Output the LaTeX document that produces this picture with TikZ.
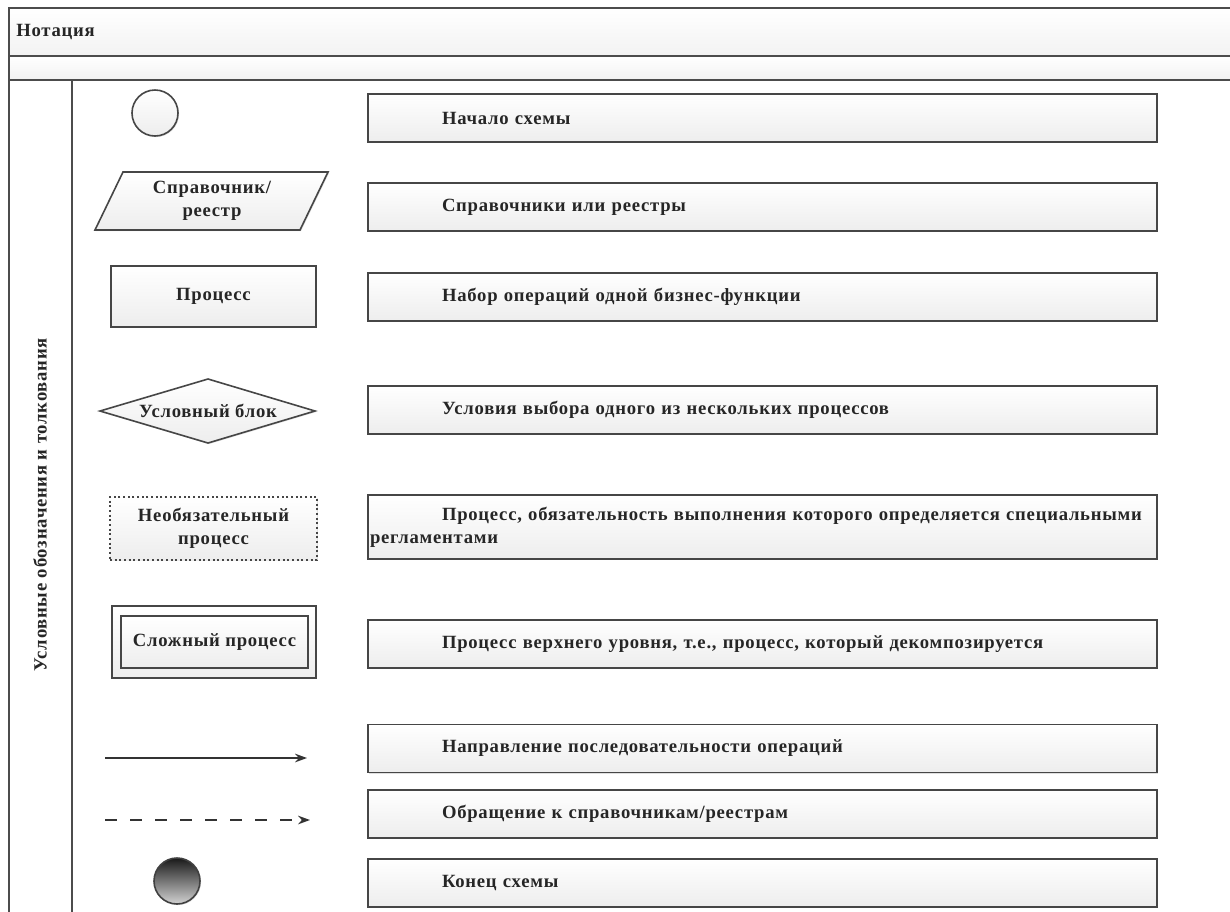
\documentclass[tikz,border=0pt]{standalone}
\usepackage{fontspec}
\setmainfont{Liberation Serif}
\newfontfamily\lsf[LetterSpace=4]{Liberation Serif}
\usetikzlibrary{arrows.meta,shadows}
\begin{document}
\begin{tikzpicture}[x=0.75pt,y=-0.75pt,
  frame/.style={draw=gray!60!black, line width=1.6pt},
  shp/.style={draw=gray!55!black, line width=1.2pt, top color=white, bottom color=gray!14,
    drop shadow={shadow xshift=0.8pt, shadow yshift=-0.8pt, opacity=0.25}},
  txt/.style={font=\lsf\bfseries\fontsize{14}{17}\selectfont, text=black!85},
  rbox/.style={shp, txt, rectangle, minimum width=591.75pt, minimum height=36pt, text width=588.75pt, inner xsep=1.5pt, align=left},
  lbl/.style={txt, align=center, inner sep=0pt},
  lshape/.style={shp, txt, rectangle, align=center, inner sep=0pt},
  arr/.style={draw=black!80, line width=1.1pt, -{Stealth[length=9pt,width=6.5pt]}},
]
\useasboundingbox (0,0) rectangle (1230,911);
\clip (0,0) rectangle (1230,911);
% frame
\shade[top color=white, bottom color=gray!10] (9,8) rectangle (1240,56);
\shade[top color=white, bottom color=gray!10] (9,56) rectangle (1240,80);
\draw[frame] (1240,8) -- (9,8) -- (9,920);
\draw[frame] (9,56) -- (1240,56);
\draw[frame] (9,80) -- (1240,80);
\draw[frame] (72,80) -- (72,920);
\node[txt, anchor=west, inner sep=0pt] (title) at (16,32) {Нотация};
\node[txt, rotate=90, inner sep=0pt] (lane) at (40,505) {Условные обозначения и толкования};
% right boxes
\node[rbox] (b1) at (762.5,118) {\hspace*{54pt}Начало схемы};
\node[rbox] (b2) at (762.5,207) {\hspace*{54pt}Справочники или реестры};
\node[rbox] (b3) at (762.5,297) {\hspace*{54pt}Набор операций одной бизнес-функции};
\node[rbox] (b4) at (762.5,410) {\hspace*{54pt}Условия выбора одного из нескольких процессов};
\node[rbox, minimum height=48pt] (b5) at (762.5,527) {\hspace*{54pt}Процесс, обязательность выполнения которого определяется специальными\\регламентами};
\node[rbox] (b6) at (762.5,644) {\hspace*{54pt}Процесс верхнего уровня, т.е., процесс, который декомпозируется};
\node[rbox] (b7) at (762.5,748.5) {\hspace*{54pt}Направление последовательности операций};
\node[rbox] (b8) at (762.5,814) {\hspace*{54pt}Обращение к справочникам/реестрам};
\node[rbox] (b9) at (762.5,883) {\hspace*{54pt}Конец схемы};
% left shapes
\node[shp, circle, minimum size=34.5pt, inner sep=0pt] (start) at (155,113) {};
\draw[shp] (123,172) -- (328,172) -- (300,230) -- (95,230) -- cycle;
\node[lbl] (sprav) at (212,201) {Справочник/\\реестр};
\node[lshape, minimum width=153.75pt, minimum height=45.75pt] (proc) at (213.5,296.5) {Процесс};
\draw[shp] (100,411) -- (208,379) -- (315,411) -- (208,443) -- cycle;
\node[lbl] (cond) at (208,411) {Условный блок};
\node[lshape, dash pattern=on 1.5pt off 2pt, minimum width=155.25pt, minimum height=47.25pt] (opt) at (213.5,528.5) {Необязательный\\процесс};
\node[shp, minimum width=153pt, minimum height=54pt] (cplx) at (214,642) {};
\node[lshape, drop shadow={opacity=0}, minimum width=140.25pt, minimum height=39pt] (cplxin) at (214.5,642) {Сложный процесс};
\coordinate (a1s) at (105,758);
\coordinate (a1e) at (307,758);
\draw[arr] (a1s) -- (a1e);
\coordinate (a2s) at (105,820);
\coordinate (a2e) at (310,820);
\draw[arr, dash pattern=on 9pt off 9.75pt] (a2s) -- (a2e);
\node[circle, minimum size=34.5pt, inner sep=0pt, draw=gray!50!black, line width=1.2pt, top color=black!90, bottom color=gray!35,
  drop shadow={shadow xshift=0.8pt, shadow yshift=-0.8pt, opacity=0.25}] (end) at (177,881) {};
\end{tikzpicture}
\end{document}
